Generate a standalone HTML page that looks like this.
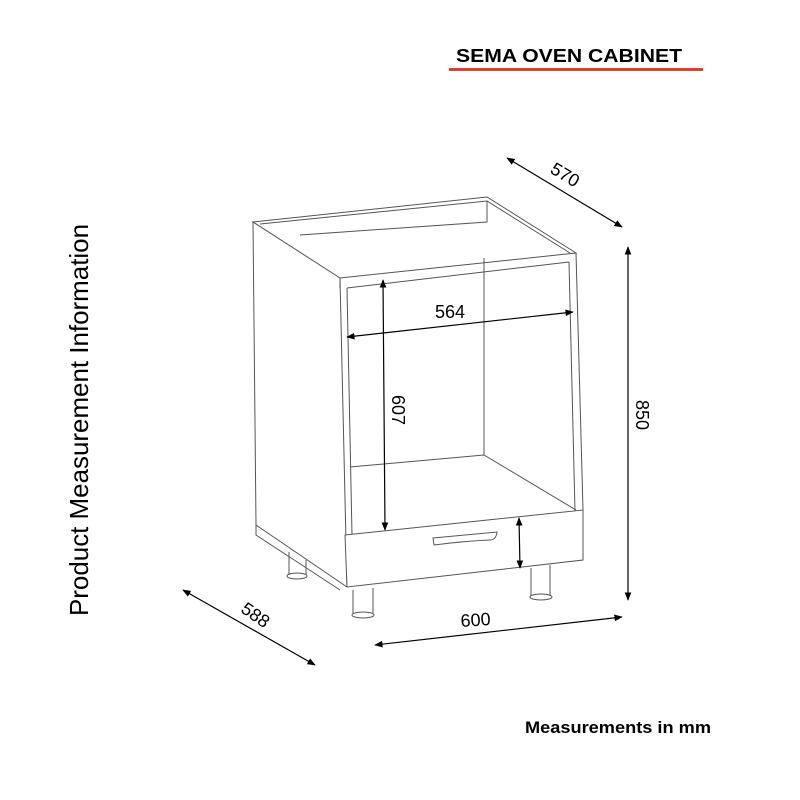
<!DOCTYPE html>
<html><head><style>body{margin:0;background:#fff}svg{display:block}</style></head><body>
<svg width="800" height="800" viewBox="0 0 800 800" xmlns="http://www.w3.org/2000/svg" font-family="Liberation Sans, sans-serif">
<defs>
<marker id="a" viewBox="0 0 10 10" refX="9" refY="5" markerWidth="7" markerHeight="7" orient="auto-start-reverse"><path d="M0,1 L10,5 L0,9 z" fill="#000"/></marker>
</defs>
<text x="569" y="62" text-anchor="middle" font-size="18" font-weight="bold" textLength="226" lengthAdjust="spacingAndGlyphs">SEMA OVEN CABINET</text>
<rect x="449" y="68" width="254" height="3" fill="#e2402a"/>
<text transform="translate(88,420) rotate(-90)" text-anchor="middle" font-size="26" textLength="392" lengthAdjust="spacingAndGlyphs">Product Measurement Information</text>
<text x="618" y="733" text-anchor="middle" font-size="17" font-weight="bold" textLength="186" lengthAdjust="spacingAndGlyphs">Measurements in mm</text>

<g fill="none" stroke="#555" stroke-width="1">
<path d="M253,222 L487,197 L576,253 L340,278 Z"/>
<path d="M260,224 L487,201 L570,253"/>
<path d="M300,235 L487,222 L487,201"/>
<path d="M253,222 L256,525 L347,587"/>
<path d="M256,525 L256,535 L340,590"/>
<path d="M340,278 L347,587"/>
<path d="M347,288 L352,535"/>
<path d="M576,253 L583,510"/>
<path d="M569,262 L575,512"/>
<path d="M347,288 L569,262"/>
<path d="M340,278 L340,288"/>
<path d="M484,258 L484,455"/>
<path d="M350,467 L484,455 L576,510"/>
<path d="M345,535 L583,510 L583,560 L347,587 Z" fill="#fff"/>
<path d="M433,538 L497,532 Q496,540 490,540 Q465,541 434,545 Z"/>
<path d="M289,552 L289,575 M306,560 L306,575"/>
<ellipse cx="297" cy="576" rx="10" ry="3"/>
<path d="M353,590 L353,613 M373,588 L373,613"/>
<ellipse cx="363" cy="615" rx="11" ry="3"/>
<path d="M531,568 L531,596 M550,565 L550,596"/>
<ellipse cx="541" cy="597" rx="11" ry="3"/>
</g>

<g stroke="#000" stroke-width="1.2" marker-start="url(#a)" marker-end="url(#a)">
<line x1="507" y1="158" x2="622" y2="227"/>
<line x1="628" y1="247" x2="628" y2="600"/>
<line x1="347" y1="337" x2="573" y2="312"/>
<line x1="383" y1="280" x2="385" y2="530"/>
<line x1="519" y1="518" x2="520" y2="568"/>
<line x1="375" y1="645" x2="622" y2="617"/>
<line x1="183" y1="590" x2="315" y2="665"/>
</g>
<g font-size="18">
<text transform="translate(562,180) rotate(31)" text-anchor="middle">570</text>
<text transform="translate(636,415) rotate(90)" text-anchor="middle">850</text>
<text x="450" y="318" text-anchor="middle">564</text>
<text transform="translate(392,410) rotate(90)" text-anchor="middle">607</text>
<text transform="translate(476,626) rotate(-4)" text-anchor="middle">600</text>
<text transform="translate(252,620) rotate(35)" text-anchor="middle">588</text>
</g>
</svg>
</body></html>
